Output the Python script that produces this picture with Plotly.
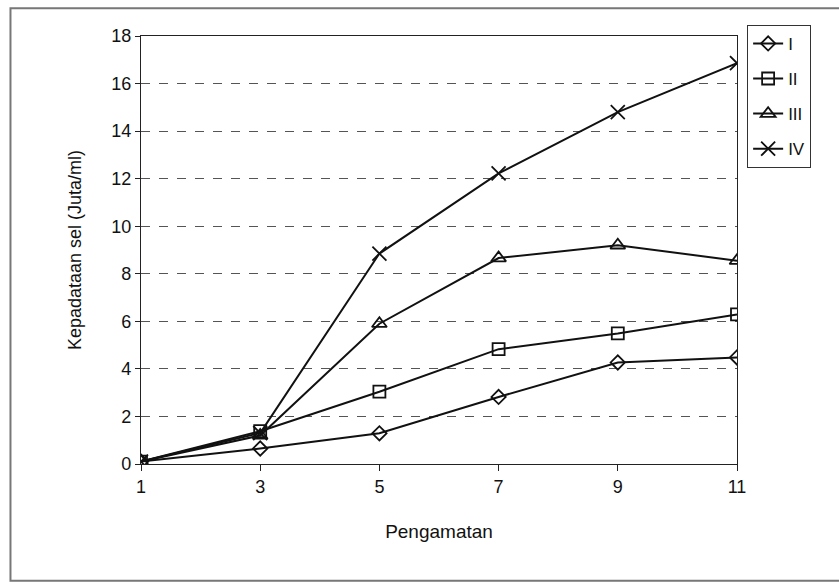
import plotly.graph_objects as go

# Observation days and cell density (million cells/ml) per treatment
pengamatan = [1, 3, 5, 7, 9, 11]
seri_I = [0.1, 0.65, 1.29, 2.82, 4.27, 4.48]
seri_II = [0.1, 1.38, 3.04, 4.83, 5.49, 6.29]
seri_III = [0.1, 1.2, 5.9, 8.66, 9.2, 8.55]
seri_IV = [0.1, 1.3, 8.85, 12.22, 14.8, 16.86]

names = ["I", "II", "III", "IV"]
values = [seri_I, seri_II, seri_III, seri_IV]
symbols = ["diamond-open", "square-open", "triangle-up-open", "x-thin-open"]
sizes = [11, 12, 13, 14]

fig = go.Figure()
for nm, ys, sym, sz in zip(names, values, symbols, sizes):
    fig.add_trace(go.Scatter(
        x=pengamatan, y=ys, name=nm, mode="lines+markers",
        line=dict(color="#111111", width=2),
        marker=dict(symbol=sym, size=sz, color="#111111",
                    line=dict(color="#111111", width=1.8)),
        legendgroup=nm,
    ))

font = "Liberation Sans, Arial, sans-serif"
fig.update_layout(
    width=839, height=583,
    margin=dict(l=141, r=102, t=36, b=119),
    paper_bgcolor="white", plot_bgcolor="white",
    font=dict(family=font, size=18, color="#111111"),
    showlegend=True,
    legend=dict(
        x=1.017, y=1.026, xanchor="left", yanchor="top",
        bordercolor="#333333", borderwidth=1, bgcolor="white",
        font=dict(family=font, size=17, color="#111111"),
        traceorder="grouped", tracegroupgap=10,
        itemwidth=30,
    ),
    xaxis=dict(
        range=[1, 11], tickvals=pengamatan, ticktext=[str(v) for v in pengamatan],
        showgrid=False, zeroline=False,
        showline=True, linecolor="#222222", linewidth=1.3, mirror=True,
        ticks="outside", ticklen=6, tickcolor="#222222",
        tickfont=dict(family=font, size=18),
        title=dict(text="Pengamatan", standoff=28,
                   font=dict(family=font, size=19)),
    ),
    yaxis=dict(
        range=[0, 18], dtick=2,
        showgrid=True, gridcolor="#555555", griddash="dash", gridwidth=1.2,
        zeroline=False,
        showline=True, linecolor="#222222", linewidth=1.3, mirror=True,
        ticks="outside", ticklen=5, tickcolor="#222222",
        tickfont=dict(family=font, size=18),
        title=dict(text="Kepadataan sel (Juta/ml)", standoff=24,
                   font=dict(family=font, size=18)),
    ),
    shapes=[dict(
        type="rect", xref="paper", yref="paper",
        x0=-0.219, x1=1.18, y0=-0.273, y1=1.065,
        line=dict(color="#777777", width=2), fillcolor="rgba(0,0,0,0)",
        layer="below",
    )],
)

fig.write_html("out.html")
